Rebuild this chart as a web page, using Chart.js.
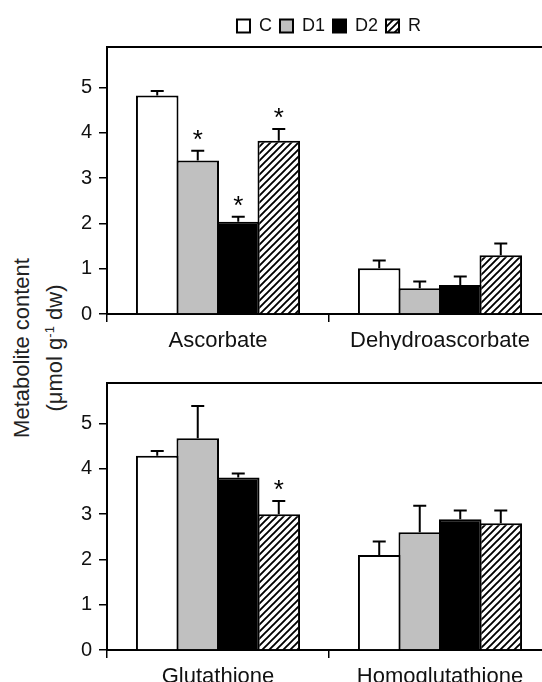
<!DOCTYPE html>
<html>
<head>
<meta charset="utf-8">
<script src="https://cdn.jsdelivr.net/npm/chart.js@4.4.1/dist/chart.umd.min.js"></script>
<style>
  html, body { margin: 0; padding: 0; background: #fff; overflow: hidden; }
  body { width: 542px; height: 682px; position: relative; font-family: "Liberation Sans", Arial, sans-serif; }
  .panel { position: absolute; left: 0; }
  #ytitle { position: absolute; left: 38px; top: 348px; width: 0; height: 0; }
  #ytitle div {
    position: absolute; white-space: nowrap; text-align: center;
    font-size: 22px; line-height: 33px; color: #222;
    transform: translate(-50%, -50%) rotate(-90deg);
  }
  #ytitle sup { font-size: 13px; vertical-align: 8px; line-height: 0; }
</style>
</head>
<body>
<div id="ytitle"><div>Metabolite content<br>(&mu;mol g<sup>-1</sup> dw)</div></div>
<div class="panel" style="top:0"><canvas id="topChart" width="552" height="350"></canvas></div>
<div class="panel" style="top:345px"><canvas id="bottomChart" width="552" height="341"></canvas></div>

<script>
// series and categories
const seriesNames = ["C", "D1", "D2", "R"];
const topCategories = ["Ascorbate", "Dehydroascorbate"];
const bottomCategories = ["Glutathione", "Homoglutathione"];
const yTicks = [0, 1, 2, 3, 4, 5];
const yMax = 5.9;

// means per series (C, D1, D2, R), one value per category
const topMeans = [
  [4.83, 1.01],
  [3.39, 0.57],
  [2.04, 0.64],
  [3.83, 1.30],
];
const topErrors = [
  [0.10, 0.17],
  [0.22, 0.15],
  [0.11, 0.19],
  [0.26, 0.26],
];
const topSignif = [
  [0, 0],
  [1, 0],
  [1, 0],
  [1, 0],
];

const bottomMeans = [
  [4.29, 2.10],
  [4.68, 2.60],
  [3.81, 2.89],
  [3.00, 2.80],
];
const bottomErrors = [
  [0.11, 0.30],
  [0.71, 0.59],
  [0.09, 0.19],
  [0.29, 0.28],
];
const bottomSignif = [
  [0, 0],
  [0, 0],
  [0, 0],
  [1, 0],
];

const FONT = '"Liberation Sans", Arial, sans-serif';
const INK = "#000";

function makeHatch() {
  const c = document.createElement("canvas");
  c.width = 7; c.height = 7;
  const g = c.getContext("2d");
  g.fillStyle = "#fff";
  g.fillRect(0, 0, 7, 7);
  g.strokeStyle = INK;
  g.lineWidth = 1.9;
  g.beginPath();
  g.moveTo(-1, 8); g.lineTo(8, -1);
  g.moveTo(-1, 1); g.lineTo(1, -1);
  g.moveTo(6, 8); g.lineTo(8, 6);
  g.stroke();
  return g.createPattern(c, "repeat");
}
const hatch = makeHatch();
const fills = ["#ffffff", "#c0c0c0", "#000000", hatch];

// error bars + asterisks, positioned through the y scale
const errorBarPlugin = {
  id: "errorBars",
  afterDatasetsDraw(chart, args, opts) {
    const { ctx } = chart;
    const y = chart.scales.y;
    ctx.save();
    ctx.strokeStyle = INK;
    ctx.lineWidth = 2;
    ctx.fillStyle = INK;
    ctx.font = "26px " + FONT;
    ctx.textAlign = "center";
    ctx.textBaseline = "alphabetic";
    chart.data.datasets.forEach((ds, i) => {
      const meta = chart.getDatasetMeta(i);
      meta.data.forEach((bar, j) => {
        const top = y.getPixelForValue(ds.data[j] + opts.errors[i][j]);
        ctx.beginPath();
        ctx.moveTo(bar.x, bar.y);
        ctx.lineTo(bar.x, top);
        ctx.moveTo(bar.x - 6.5, top);
        ctx.lineTo(bar.x + 6.5, top);
        ctx.stroke();
        if (opts.signif[i][j]) ctx.fillText("*", bar.x, top - 3);
      });
    });
    ctx.restore();
  },
};

// top frame line of each panel
const frameTop = {
  id: "frameTop",
  afterDraw(chart) {
    const { ctx, chartArea } = chart;
    ctx.save();
    ctx.strokeStyle = INK;
    ctx.lineWidth = 2;
    ctx.beginPath();
    ctx.moveTo(chartArea.left, chartArea.top);
    ctx.lineTo(chartArea.right + 2, chartArea.top);
    ctx.stroke();
    ctx.restore();
  },
};

function buildChart(id, categories, means, errors, signif, showLegend, padTop, gapTop) {
  const datasets = seriesNames.map((name, i) => ({
    label: name,
    data: means[i],
    backgroundColor: fills[i],
    borderColor: INK,
    borderWidth: 2,
    categoryPercentage: 0.73,
    barPercentage: 1.05,
  }));

  return new Chart(document.getElementById(id), {
    type: "bar",
    data: { labels: categories, datasets },
    options: {
      responsive: false,
      animation: false,
      devicePixelRatio: 1,
      layout: { padding: { top: padTop, right: 1, left: 0, bottom: 0 } },
      plugins: {
        legend: {
          display: showLegend,
          position: "top",
          fullSize: false,
          labels: {
            color: "#111",
            font: { family: FONT, size: 18 },
            boxWidth: 13,
            boxHeight: 13,
            padding: 8,
          },
        },
        tooltip: { enabled: false },
        errorBars: { errors, signif },
      },
      scales: {
        x: {
          afterFit: (s) => { s.height = 36; },
          grid: {
            display: true,
            drawOnChartArea: false,
            drawTicks: true,
            tickLength: 8,
            color: INK,
            lineWidth: 1.5,
            offset: true,
          },
          border: { display: true, color: INK, width: 2 },
          ticks: { color: "#111", font: { family: FONT, size: 22 }, padding: 6 },
        },
        // empty spacer between legend and plot frame
        xTop: {
          position: "top",
          afterFit: (s) => { s.height = gapTop; },
          grid: { display: false },
          border: { display: false },
          ticks: { display: false },
        },
        y: {
          min: 0,
          max: yMax,
          afterBuildTicks: (s) => {
            s.ticks = yTicks.map((v) => ({ value: v }));
          },
          afterFit: (s) => { s.width = 107; },
          grid: {
            display: true,
            drawOnChartArea: false,
            drawTicks: true,
            tickLength: 8,
            color: INK,
            lineWidth: 1.5,
          },
          border: { display: true, color: INK, width: 2 },
          ticks: { color: "#111", font: { family: FONT, size: 20 }, padding: 7 },
        },
      },
    },
    plugins: [errorBarPlugin, frameTop],
  });
}

buildChart("topChart", topCategories, topMeans, topErrors, topSignif, true, 9, 2);
buildChart("bottomChart", bottomCategories, bottomMeans, bottomErrors, bottomSignif, false, 38, 0);
</script>
</body>
</html>
